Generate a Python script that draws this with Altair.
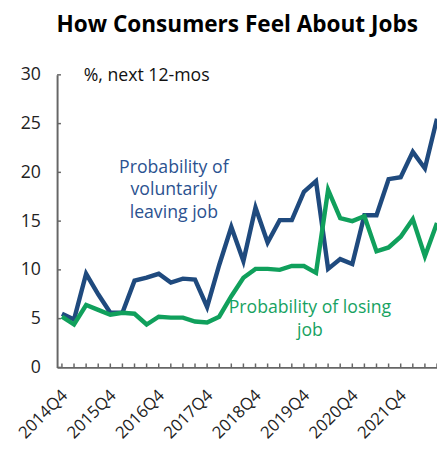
import json
import altair as alt
import pandas as pd

quarters = ["2014Q4", "2015Q1", "2015Q2", "2015Q3", "2015Q4", "2016Q1", "2016Q2", "2016Q3",
            "2016Q4", "2017Q1", "2017Q2", "2017Q3", "2017Q4", "2018Q1", "2018Q2", "2018Q3",
            "2018Q4", "2019Q1", "2019Q2", "2019Q3", "2019Q4", "2020Q1", "2020Q2", "2020Q3",
            "2020Q4", "2021Q1", "2021Q2", "2021Q3", "2021Q4", "2022Q1", "2022Q2", "2022Q3"]
tick_labels = ["2014Q4", "2015Q4", "2016Q4", "2017Q4", "2018Q4", "2019Q4", "2020Q4", "2021Q4"]
y_ticks = [0, 5, 10, 15, 20, 25, 30]
leaving = [5.5, 4.9, 9.6, 7.5, 5.6, 5.6, 8.9, 9.2, 9.6, 8.7, 9.1, 9.0, 6.2, 10.5, 14.4, 10.9,
           16.4, 12.8, 15.1, 15.1, 18.0, 19.1, 10.1, 11.1, 10.6, 15.6, 15.6, 19.3, 19.5, 22.1, 20.4, 25.5]
losing = [5.2, 4.4, 6.4, 5.9, 5.4, 5.6, 5.5, 4.4, 5.2, 5.1, 5.1, 4.7, 4.6, 5.2, 7.3, 9.2,
          10.1, 10.1, 10.0, 10.4, 10.4, 9.7, 18.2, 15.3, 15.0, 15.5, 11.9, 12.3, 13.4, 15.2, 11.4, 14.8]

BLUE = "#1f4a7e"
GREEN = "#10a05c"
BLUE_TXT = "#2b5290"
GREEN_TXT = "#17a262"
AXIS = "#666666"
FONT = "Open Sans"

rows = []
for i, q in enumerate(quarters):
    rows.append({"i": i, "q": q, "series": "leaving", "v": leaving[i]})
    rows.append({"i": i, "q": q, "series": "losing", "v": losing[i]})
df = pd.DataFrame(rows)

xticks_df = pd.DataFrame({"i": list(range(len(quarters))), "y0": 0.0, "y1": 0.4})
yticks_df = pd.DataFrame({"v": y_ticks, "x0": -0.4, "x1": -0.08})

label_expr = "indexof(%s, %s[datum.value]) >= 0 ? %s[datum.value] : ''" % (
    json.dumps(tick_labels), json.dumps(quarters), json.dumps(quarters))

xscale = alt.Scale(domain=[-0.4, 31], nice=False, zero=False)
yscale = alt.Scale(domain=[0, 30], nice=False)

lines = alt.Chart(df).mark_line(strokeWidth=4.5, strokeJoin="miter", clip=True).encode(
    x=alt.X("i:Q", scale=xscale, axis=alt.Axis(
        values=list(range(len(quarters))), labelExpr=label_expr, title=None,
        ticks=False, labelAngle=-45, labelFontSize=17, labelFont=FONT, labelColor="#222",
        domainColor=AXIS, domainWidth=2, grid=False, labelPadding=20, labelOffset=-3,
        labelOverlap=False, labelBound=False, labelFlush=False)),
    y=alt.Y("v:Q", scale=yscale, axis=alt.Axis(
        values=y_ticks, title=None, ticks=False, labelFontSize=18,
        labelFont=FONT, labelColor="#222", domainColor=AXIS, domainWidth=2, grid=False,
        labelPadding=17)),
    color=alt.Color("series:N", scale=alt.Scale(domain=["leaving", "losing"], range=[BLUE, GREEN]),
                    legend=None),
    order="i:Q",
)

xticks = alt.Chart(xticks_df).mark_rule(color=AXIS, strokeWidth=1.5).encode(
    x=alt.X("i:Q", scale=xscale), y=alt.Y("y0:Q", scale=yscale), y2="y1:Q")
yticks = alt.Chart(yticks_df).mark_rule(color=AXIS, strokeWidth=1.5).encode(
    y=alt.Y("v:Q", scale=yscale), x=alt.X("x0:Q", scale=xscale), x2="x1:Q")

notes = [
    {"x": 1.8, "y": 29.9, "t": ["%, next 12-mos"], "c": "#111111", "a": "left"},
    {"x": 9.25, "y": 20.45, "t": ["Probability of", "voluntarily", "leaving job"], "c": BLUE_TXT, "a": "center"},
    {"x": 20.5, "y": 6.05, "t": ["Probability of losing", "job"], "c": GREEN_TXT, "a": "center"},
]

note_layers = []
for r in notes:
    note_layers.append(
        alt.Chart(pd.DataFrame([r])).mark_text(
            font=FONT, fontSize=18, align=r["a"], baseline="middle", lineHeight=23,
            color=r["c"]).encode(
            x=alt.X("x:Q", scale=xscale), y=alt.Y("y:Q", scale=yscale), text="t"))

chart = alt.layer(xticks, yticks, lines, *note_layers).properties(
    width=387, height=298,
    title=alt.TitleParams("How Consumers Feel About Jobs", font=FONT, fontSize=23,
                          fontWeight="bold", color="#000", anchor="middle", dx=-10, dy=-26),
    autosize=alt.AutoSizeParams(type="none"),
    padding={"left": 50, "top": 64, "right": 0, "bottom": 77},
).configure_view(stroke=None)

chart.save("out.html", embed_options={"renderer": "svg", "actions": False})
